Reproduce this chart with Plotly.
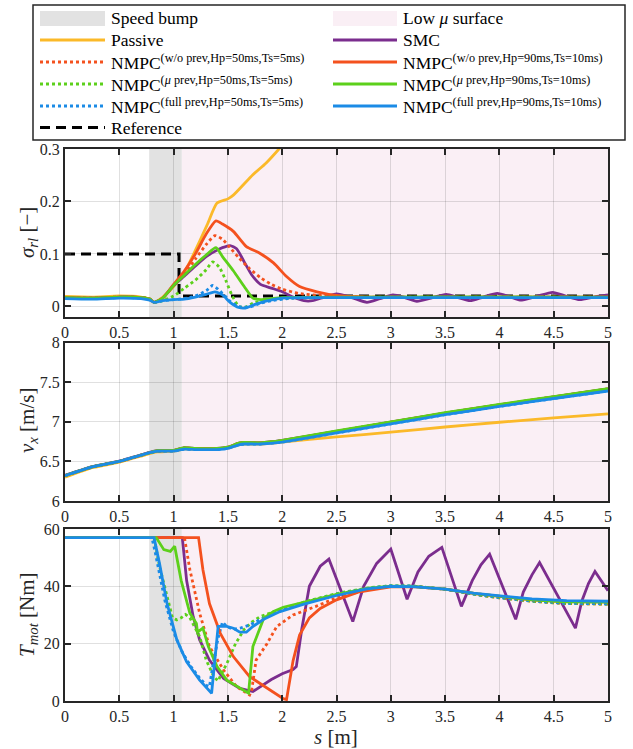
import plotly.graph_objects as go
from plotly.subplots import make_subplots

# ---------------- data ----------------
# regions along the track
bump_range = [0.775, 1.075]
lowmu_range = [1.075, 5.0]

# slip ratio sigma_rl [-]
ref_s = [0.0, 1.05, 1.05, 5.0]
ref_sigma = [0.1, 0.1, 0.02, 0.02]

passive_sig_s = [0, 0.25, 0.5, 0.7, 0.78, 0.82, 0.9, 1.0, 1.1, 1.18, 1.31, 1.4, 1.5, 1.55, 1.73, 1.85, 1.97, 2.05]
passive_sig = [0.019, 0.018, 0.02, 0.018, 0.014, 0.008, 0.018, 0.038, 0.065, 0.098, 0.156, 0.197, 0.205, 0.212, 0.251, 0.273, 0.3, 0.32]

smc_sig_s = [0, 0.25, 0.5, 0.7, 0.78, 0.82, 0.9, 1.0, 1.1, 1.2, 1.3, 1.38, 1.45, 1.52, 1.58, 1.65, 1.72, 1.8, 1.9, 2.0, 2.1, 2.2, 2.28,
             2.39, 2.5, 2.64, 2.78, 2.9, 3.02, 3.13, 3.24, 3.37, 3.51, 3.62, 3.73, 3.85, 3.98, 4.09, 4.19, 4.34, 4.49,
             4.61, 4.74, 4.87, 5.0]
smc_sig = [0.017, 0.016, 0.018, 0.017, 0.014, 0.008, 0.016, 0.04, 0.058, 0.077, 0.095, 0.105, 0.112, 0.116, 0.11, 0.085, 0.06, 0.042, 0.035, 0.028, 0.018, 0.011, 0.011,
           0.018, 0.024, 0.017, 0.008, 0.015, 0.022, 0.017, 0.01, 0.016, 0.023, 0.017, 0.011, 0.018, 0.025, 0.019, 0.012, 0.019, 0.027,
           0.02, 0.013, 0.018, 0.022]

nmpc50_wo_sig_s = [0, 0.25, 0.5, 0.7, 0.78, 0.82, 0.9, 1.0, 1.1, 1.2, 1.3, 1.38, 1.45, 1.52, 1.6, 1.7, 1.8, 1.9, 2.0, 2.15, 2.4, 2.7, 5.0]
nmpc50_wo_sig = [0.017, 0.016, 0.018, 0.017, 0.014, 0.008, 0.016, 0.04, 0.062, 0.09, 0.118, 0.135, 0.128, 0.112, 0.093, 0.072, 0.055, 0.042, 0.033, 0.025, 0.02, 0.018, 0.018]

nmpc50_mu_sig_s = [0, 0.25, 0.5, 0.7, 0.78, 0.82, 0.9, 1.0, 1.1, 1.2, 1.3, 1.36, 1.42, 1.48, 1.54, 1.6, 1.65, 1.75, 1.9, 2.1, 5.0]
nmpc50_mu_sig = [0.017, 0.016, 0.018, 0.017, 0.014, 0.008, 0.011, 0.02, 0.035, 0.05, 0.07, 0.085, 0.075, 0.05, 0.02, 0.0, -0.002, 0.008, 0.013, 0.016, 0.017]

nmpc50_full_sig_s = [0, 0.25, 0.5, 0.7, 0.78, 0.82, 0.9, 1.0, 1.1, 1.2, 1.3, 1.36, 1.45, 1.52, 1.6, 1.7, 1.8, 1.9, 2.05, 2.3, 5.0]
nmpc50_full_sig = [0.016, 0.015, 0.017, 0.016, 0.013, 0.008, 0.011, 0.013, 0.015, 0.02, 0.03, 0.04, 0.025, 0.01, 0.0, -0.001, 0.006, 0.011, 0.015, 0.017, 0.017]

nmpc90_wo_sig_s = [0, 0.25, 0.5, 0.7, 0.78, 0.82, 0.9, 1.0, 1.1, 1.2, 1.3, 1.39, 1.45, 1.55, 1.67, 1.79, 1.92, 2.04, 2.16, 2.32, 2.5, 2.8, 5.0]
nmpc90_wo_sig = [0.017, 0.016, 0.018, 0.017, 0.014, 0.008, 0.016, 0.042, 0.068, 0.1, 0.138, 0.163, 0.157, 0.143, 0.114, 0.102, 0.083, 0.057, 0.038, 0.028, 0.021, 0.018, 0.018]

nmpc90_mu_sig_s = [0, 0.25, 0.5, 0.7, 0.78, 0.82, 0.9, 1.0, 1.1, 1.2, 1.3, 1.39, 1.45, 1.55, 1.65, 1.73, 1.8, 1.9, 2.0, 5.0]
nmpc90_mu_sig = [0.017, 0.016, 0.018, 0.017, 0.014, 0.008, 0.016, 0.04, 0.06, 0.08, 0.098, 0.112, 0.095, 0.068, 0.038, 0.016, 0.013, 0.015, 0.017, 0.018]

nmpc90_full_sig_s = [0, 0.25, 0.5, 0.7, 0.78, 0.82, 0.9, 1.0, 1.1, 1.2, 1.3, 1.38, 1.45, 1.52, 1.6, 1.66, 1.75, 1.85, 2.0, 2.2, 5.0]
nmpc90_full_sig = [0.015, 0.014, 0.016, 0.015, 0.012, 0.008, 0.011, 0.013, 0.014, 0.018, 0.023, 0.028, 0.022, 0.008, -0.002, -0.003, 0.004, 0.01, 0.016, 0.017, 0.017]

# longitudinal speed v_x [m/s]
vx_s = [0, 0.25, 0.5, 0.78, 0.85, 1.0, 1.1, 1.2, 1.4, 1.5, 1.6, 1.65, 1.8, 2.0, 2.5, 3.0, 3.5, 4.0, 4.5, 5.0]
vx_passive = [6.30, 6.42, 6.49, 6.60, 6.62, 6.63, 6.66, 6.655, 6.66, 6.67, 6.71, 6.72, 6.72, 6.745, 6.81, 6.87, 6.935, 6.995, 7.05, 7.10]
vx_smc = [6.325, 6.435, 6.505, 6.615, 6.635, 6.64, 6.675, 6.665, 6.665, 6.68, 6.73, 6.74, 6.735, 6.765, 6.88, 6.995, 7.11, 7.215, 7.315, 7.415]
vx_nmpc50_wo = [6.32, 6.43, 6.5, 6.61, 6.63, 6.635, 6.67, 6.66, 6.66, 6.675, 6.725, 6.735, 6.73, 6.76, 6.875, 6.99, 7.105, 7.21, 7.31, 7.41]
vx_nmpc50_mu = [6.32, 6.43, 6.5, 6.61, 6.63, 6.635, 6.668, 6.66, 6.66, 6.675, 6.725, 6.735, 6.73, 6.76, 6.878, 6.993, 7.108, 7.213, 7.313, 7.413]
vx_nmpc50_full = [6.32, 6.43, 6.5, 6.61, 6.63, 6.63, 6.655, 6.65, 6.65, 6.665, 6.71, 6.72, 6.72, 6.745, 6.86, 6.975, 7.09, 7.195, 7.295, 7.39]
vx_nmpc90_wo = [6.32, 6.43, 6.5, 6.61, 6.633, 6.638, 6.672, 6.663, 6.663, 6.678, 6.728, 6.738, 6.733, 6.762, 6.88, 6.995, 7.11, 7.215, 7.315, 7.415]
vx_nmpc90_mu = [6.32, 6.43, 6.5, 6.61, 6.635, 6.64, 6.675, 6.665, 6.665, 6.68, 6.73, 6.74, 6.735, 6.765, 6.885, 7.0, 7.115, 7.22, 7.32, 7.42]
vx_nmpc90_full = [6.32, 6.43, 6.5, 6.61, 6.63, 6.63, 6.655, 6.65, 6.65, 6.665, 6.71, 6.72, 6.72, 6.745, 6.86, 6.975, 7.09, 7.195, 7.295, 7.39]

# motor torque T_mot [Nm]
smc_T_s = [0, 1.08, 1.12, 1.18, 1.24, 1.33, 1.46, 1.61, 1.73, 1.8, 1.9, 2.0, 2.1, 2.13, 2.18, 2.25, 2.35, 2.43,
           2.65, 2.75, 2.87, 3.0, 3.15, 3.25, 3.35, 3.47, 3.65, 3.75, 3.83, 3.91, 4.15, 4.22, 4.3, 4.37, 4.70, 4.76, 4.82, 4.88, 5.0]
smc_T = [57, 57, 42, 29.5, 21.3, 14.3, 7.9, 4.4, 3.3, 5.0, 7.5, 9.5, 11.0, 12.0, 25.0, 40.0, 47.0, 49.5,
         27.7, 40.0, 48.0, 53.0, 35.5, 45.0, 50.5, 53.6, 33.0, 42.0, 47.5, 51.2, 28.5, 38.0, 44.0, 48.3, 25.4, 35.0, 41.0, 45.2, 38.5]

nmpc50_wo_T_s = [0, 1.1, 1.15, 1.24, 1.33, 1.46, 1.58, 1.70, 1.72, 1.76, 1.86, 1.95, 2.1, 2.31, 2.5, 2.8, 3.0, 3.2, 3.5, 3.8, 4.0, 4.3, 4.6, 5.0]
nmpc50_wo_T = [57, 57, 45.8, 30.6, 19.0, 10.8, 5.0, 2.1, 4.0, 14.3, 20.0, 26.0, 30.0, 33.0, 36.0, 39.0, 40.0, 40.0, 39.0, 37.0, 36.0, 34.8, 34.0, 33.8]

nmpc50_mu_T_s = [0, 0.82, 0.87, 0.94, 0.99, 1.03, 1.07, 1.11, 1.15, 1.24, 1.30, 1.37, 1.41, 1.44, 1.49, 1.57, 1.65, 1.72, 1.8, 1.95,
                 2.2, 2.5, 2.8, 3.0, 3.2, 3.5, 3.8, 4.0, 4.3, 4.6, 5.0]
nmpc50_mu_T = [57, 57, 47.0, 36.5, 29.0, 28.3, 29.0, 30.2, 29.0, 22.5, 14.3, 8.5, 7.0, 9.5, 13.0, 20.0, 25.0, 27.5, 29.5, 31.5,
               34.5, 37.5, 39.5, 40.2, 40.1, 39.0, 37.0, 36.0, 34.8, 34.0, 33.8]

nmpc50_full_T_s = [0, 0.8, 0.83, 0.87, 0.92, 1.0, 1.08, 1.16, 1.24, 1.30, 1.33, 1.36, 1.41, 1.45, 1.49, 1.55, 1.62, 1.7, 1.8, 1.95,
                   2.2, 2.5, 2.8, 3.0, 3.2, 3.5, 3.8, 4.0, 4.3, 4.6, 5.0]
nmpc50_full_T = [57, 57, 52.0, 44.0, 35.0, 24.0, 17.0, 12.0, 8.0, 5.5, 5.0, 12.0, 22.0, 27.5, 26.0, 25.0, 25.5, 26.5, 28.5, 31.0,
                 34.3, 37.3, 39.4, 40.2, 40.1, 39.0, 37.1, 36.1, 34.9, 34.1, 33.9]

nmpc90_wo_T_s = [0, 1.23, 1.27, 1.33, 1.43, 1.55, 1.70, 1.86, 2.01, 2.04, 2.1, 2.16, 2.25, 2.35, 2.5, 2.7, 3.0, 3.2, 3.5, 3.8, 4.0, 4.3, 4.6, 5.0]
nmpc90_wo_T = [57, 57, 45.8, 34.0, 23.6, 15.5, 8.5, 4.4, 0.8, 0.5, 14.0, 23.0, 29.0, 32.3, 35.3, 38.0, 39.8, 39.9, 39.0, 37.4, 36.5, 35.3, 34.7, 34.6]

nmpc90_mu_T_s = [0, 0.84, 0.91, 0.97, 1.01, 1.07, 1.15, 1.21, 1.22, 1.27, 1.32, 1.40, 1.49, 1.61, 1.69, 1.73, 1.83, 1.92, 2.01, 2.16,
                 2.5, 2.8, 3.0, 3.2, 3.5, 3.8, 4.0, 4.3, 4.6, 5.0]
nmpc90_mu_T = [57, 57, 52.8, 52.2, 54.0, 42.0, 30.6, 27.0, 24.0, 25.4, 19.0, 12.0, 7.3, 4.4, 2.7, 19.0, 28.9, 31.2, 32.7, 34.1,
               37.2, 39.4, 40.1, 40.0, 39.0, 37.4, 36.5, 35.3, 34.6, 34.5]

nmpc90_full_T_s = [0, 0.82, 0.87, 0.94, 1.03, 1.12, 1.24, 1.35, 1.41, 1.49, 1.55, 1.61, 1.67, 1.73, 1.83, 1.98,
                   2.2, 2.5, 2.78, 3.0, 3.2, 3.5, 3.76, 4.0, 4.3, 4.62, 5.0]
nmpc90_full_T = [57, 57, 48.0, 34.0, 21.3, 13.7, 7.3, 2.7, 26.0, 26.0, 25.4, 24.0, 24.0, 26.0, 28.5, 31.2,
                 33.8, 36.8, 39.1, 40.0, 39.9, 39.0, 37.6, 36.7, 35.6, 35.0, 34.8]

# axis ticks
x_ticks = [0, 0.5, 1, 1.5, 2, 2.5, 3, 3.5, 4, 4.5, 5]
x_tick_text = ["0", "0.5", "1", "1.5", "2", "2.5", "3", "3.5", "4", "4.5", "5"]
sigma_ticks = [0, 0.1, 0.2, 0.3]
vx_ticks = [6, 6.5, 7, 7.5, 8]
T_ticks = [0, 20, 40, 60]

# ---------------- styling ----------------
FONT = "Liberation Serif, Times New Roman, DejaVu Serif, serif"
C_PASSIVE = "#FBB929"
C_SMC = "#7B2D8E"
C_WO = "#F4511E"
C_MU = "#5CD01B"
C_FULL = "#1B8BE6"
C_BUMP = "#E2E2E2"
C_LOWMU = "#FAEFF5"
AX = "#262626"
LW = 2.8

W, H = 633, 749
ML, MR, MT, MB = 65, 25, 149, 48
PW = W - ML - MR
PH = H - MT - MB


def px_x(px):
    return (px - ML) / PW


def px_y(py):
    return (H - MB - py) / PH


fig = make_subplots(rows=3, cols=1)

series = [
    # (name, dash, color, (s, sigma), vx, (s, T))
    ("Passive", "solid", C_PASSIVE, (passive_sig_s, passive_sig), vx_passive, None),
    ("SMC", "solid", C_SMC, (smc_sig_s, smc_sig), vx_smc, (smc_T_s, smc_T)),
    ("NMPC50 w/o", "dot", C_WO, (nmpc50_wo_sig_s, nmpc50_wo_sig), vx_nmpc50_wo, (nmpc50_wo_T_s, nmpc50_wo_T)),
    ("NMPC50 mu", "dot", C_MU, (nmpc50_mu_sig_s, nmpc50_mu_sig), vx_nmpc50_mu, (nmpc50_mu_T_s, nmpc50_mu_T)),
    ("NMPC50 full", "dot", C_FULL, (nmpc50_full_sig_s, nmpc50_full_sig), vx_nmpc50_full, (nmpc50_full_T_s, nmpc50_full_T)),
    ("NMPC90 w/o", "solid", C_WO, (nmpc90_wo_sig_s, nmpc90_wo_sig), vx_nmpc90_wo, (nmpc90_wo_T_s, nmpc90_wo_T)),
    ("NMPC90 mu", "solid", C_MU, (nmpc90_mu_sig_s, nmpc90_mu_sig), vx_nmpc90_mu, (nmpc90_mu_T_s, nmpc90_mu_T)),
    ("NMPC90 full", "solid", C_FULL, (nmpc90_full_sig_s, nmpc90_full_sig), vx_nmpc90_full, (nmpc90_full_T_s, nmpc90_full_T)),
]

# reference slip
fig.add_trace(go.Scatter(x=ref_s, y=ref_sigma, mode="lines", showlegend=False,
                         line=dict(color="black", width=3, dash="10px,6px")), row=1, col=1)

for name, dash, color, sig, vx, tq in series:
    fig.add_trace(go.Scatter(x=sig[0], y=sig[1], mode="lines", name=name, showlegend=False,
                             line=dict(color=color, width=LW, dash=dash, shape="spline", smoothing=0.6)),
                  row=1, col=1)
    fig.add_trace(go.Scatter(x=vx_s, y=vx, mode="lines", name=name, showlegend=False,
                             line=dict(color=color, width=LW, dash=dash, shape="spline", smoothing=0.3)),
                  row=2, col=1)

# passive torque stays saturated the whole run (hidden behind the others)
for name, dash, color, sig, vx, tq in series:
    if tq is None:
        continue
    fig.add_trace(go.Scatter(x=tq[0], y=tq[1], mode="lines", name=name, showlegend=False,
                             line=dict(color=color, width=LW, dash=dash)), row=3, col=1)

axis_common = dict(
    showline=True, linecolor=AX, linewidth=2, mirror="ticks",
    ticks="inside", ticklen=6, tickwidth=2, tickcolor=AX,
    showgrid=True, gridcolor="rgba(0,0,0,0.12)", gridwidth=1.2,
    zeroline=False, tickfont=dict(family=FONT, size=16, color=AX),
)

row_domains = {1: [0.6957, 1.0], 2: [0.3623, 0.6491], 3: [0.0, 0.3116]}
row_ranges = {1: [-0.02, 0.3], 2: [6, 8], 3: [0, 60]}
row_ticks = {1: sigma_ticks, 2: vx_ticks, 3: T_ticks}
for r in (1, 2, 3):
    fig.update_xaxes(range=[0, 5], tickvals=x_ticks, ticktext=x_tick_text, row=r, col=1, **axis_common)
    fig.update_yaxes(range=row_ranges[r], tickvals=row_ticks[r], domain=row_domains[r], row=r, col=1, **axis_common)

# shaded track regions
shapes = []
for xr, yr in [("x", "y"), ("x2", "y2"), ("x3", "y3")]:
    shapes.append(dict(type="rect", xref=xr, yref=yr + " domain", x0=lowmu_range[0], x1=lowmu_range[1],
                       y0=0, y1=1, fillcolor=C_LOWMU, line=dict(width=0), layer="below"))
    shapes.append(dict(type="rect", xref=xr, yref=yr + " domain", x0=bump_range[0], x1=bump_range[1],
                       y0=0, y1=1, fillcolor=C_BUMP, line=dict(width=0), layer="below"))

# legend box
shapes.append(dict(type="rect", xref="paper", yref="paper", x0=px_x(33), x1=px_x(625), y0=px_y(140), y1=px_y(5),
                   fillcolor="white", line=dict(color=AX, width=1.5), layer="above"))

annotations = []
TXT = dict(family=FONT, size=17.5, color="black")

legend_rows = [18.5, 40, 62, 84, 106, 127.5]
col1 = [
    ("patch", C_BUMP, None, "Speed bump"),
    ("line", C_PASSIVE, "solid", "Passive"),
    ("line", C_WO, "dot", "NMPC<sup>(w/o prev,Hp=50ms,Ts=5ms)</sup>"),
    ("line", C_MU, "dot", "NMPC<sup>(<i>μ</i> prev,Hp=50ms,Ts=5ms)</sup>"),
    ("line", C_FULL, "dot", "NMPC<sup>(full prev,Hp=50ms,Ts=5ms)</sup>"),
    ("line", "black", "10px,6px", "Reference"),
]
col2 = [
    ("patch", C_LOWMU, None, "Low <i>μ</i> surface"),
    ("line", C_SMC, "solid", "SMC"),
    ("line", C_WO, "solid", "NMPC<sup>(w/o prev,Hp=90ms,Ts=10ms)</sup>"),
    ("line", C_MU, "solid", "NMPC<sup>(<i>μ</i> prev,Hp=90ms,Ts=10ms)</sup>"),
    ("line", C_FULL, "solid", "NMPC<sup>(full prev,Hp=90ms,Ts=10ms)</sup>"),
]
for items, xs0, xs1, xt in [(col1, 40, 105, 109), (col2, 333, 397, 401)]:
    for (kind, color, dash, label), yy in zip(items, legend_rows):
        if kind == "patch":
            shapes.append(dict(type="rect", xref="paper", yref="paper", x0=px_x(xs0), x1=px_x(xs1),
                               y0=px_y(yy + 7.5), y1=px_y(yy - 7.5), fillcolor=color,
                               line=dict(width=0), layer="above"))
        else:
            shapes.append(dict(type="line", xref="paper", yref="paper", x0=px_x(xs0), x1=px_x(xs1),
                               y0=px_y(yy), y1=px_y(yy), line=dict(color=color, width=3, dash=dash),
                               layer="above"))
        annotations.append(dict(xref="paper", yref="paper", x=px_x(xt), y=px_y(yy), text=label,
                                showarrow=False, xanchor="left", yanchor="middle", font=TXT))

# axis titles
TITLE = dict(family=FONT, size=21, color=AX)
annotations += [
    dict(xref="paper", yref="paper", x=px_x(28), y=px_y(233), text="<i>σ</i><sub><i>rl</i></sub> [−]",
         textangle=-90, showarrow=False, xanchor="center", yanchor="middle", font=TITLE),
    dict(xref="paper", yref="paper", x=px_x(28), y=px_y(421), text="<i>v</i><sub><i>x</i></sub> [m/s]",
         textangle=-90, showarrow=False, xanchor="center", yanchor="middle", font=TITLE),
    dict(xref="paper", yref="paper", x=px_x(28), y=px_y(615), text="<i>T</i><sub><i>mot</i></sub> [Nm]",
         textangle=-90, showarrow=False, xanchor="center", yanchor="middle", font=TITLE),
    dict(xref="paper", yref="paper", x=px_x(336), y=px_y(737), text="<i>s</i> [m]",
         showarrow=False, xanchor="center", yanchor="middle", font=TITLE),
]

fig.update_layout(
    width=W, height=H,
    margin=dict(l=ML, r=MR, t=MT, b=MB),
    paper_bgcolor="white", plot_bgcolor="white",
    showlegend=False,
    shapes=shapes, annotations=annotations,
    font=dict(family=FONT, color=AX),
)

fig.write_html("out.html")
